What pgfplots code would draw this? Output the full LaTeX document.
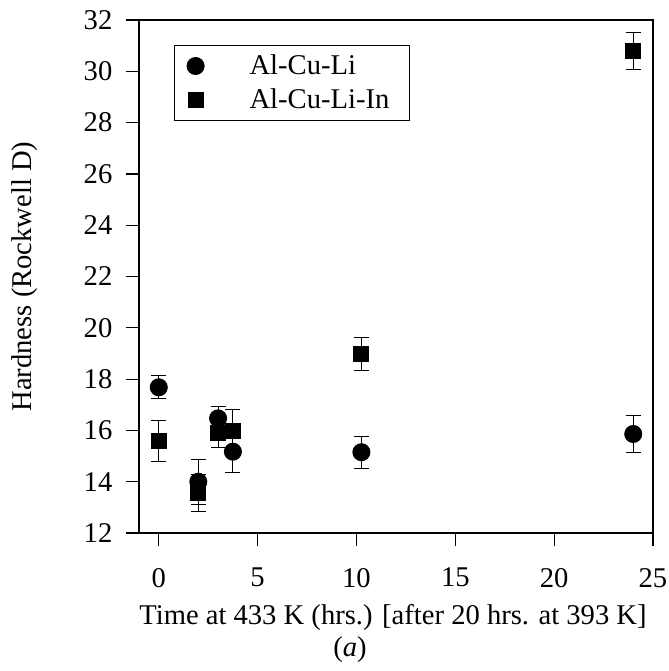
\documentclass[border=0pt]{standalone}
\usepackage{fontspec}
\setmainfont{Liberation Serif}
\usepackage{pgfplots}
\pgfplotsset{compat=1.18}
\pgfplotsset{myleg/.style={legend image code/.code={\path[draw=none,fill=none] (0pt,-5.5pt) rectangle (37.5pt,5.5pt);
    \draw[##1] plot coordinates {(10.5pt,0pt)};}}}
\begin{document}
\begin{tikzpicture}
\begin{axis}[
  scale only axis, width=257pt, height=256.5pt,
  xmin=-1, xmax=25, ymin=12, ymax=32,
  xtick={0,5,...,25}, ytick={12,14,...,32},
  tick align=outside, major tick length=6.5pt,
  xtick pos=bottom, ytick pos=left,
  axis line style={line width=0.6pt},
  tick style={line width=0.6pt, black},
  /pgf/number format/assume math mode=true,
  tick label style={font=\fontsize{14.3}{17}\selectfont},
  xticklabel style={yshift=-7.5pt},
  yticklabel style={xshift=-3.3pt},
  clip=false,
  legend style={at={(axis description cs:0.0681,0.9513)}, anchor=north west,
    draw=black, line width=0.6pt, font=\fontsize{14.3}{17}\selectfont,
    inner xsep=0pt, inner ysep=4.5pt, row sep=5.5pt, column sep=0pt,
    nodes={inner sep=0pt}},
  legend cell align=left,
]
\coordinate (sw) at (rel axis cs:0,0);
\addplot[only marks, mark=*, mark size=4.25pt, black, line width=0.5pt, myleg,
  error bars/.cd, y dir=both, y explicit,
  error bar style={line width=0.5pt, black},
  error mark options={rotate=90, mark size=3.75pt, line width=0.5pt, black}]
  coordinates {
  (0,17.68) +- (0,0.45)
  (2,14.0) +- (0,0.87)
  (3,16.47) +- (0,0.47)
  (3.75,15.17) +- (0,0.83)
  (10.25,15.15) +- (0,0.62)
  (24,15.86) +- (0,0.74)
};
\addlegendentry{\makebox[80pt][l]{Al-Cu-Li}}
\addplot[only marks, mark=square*, mark size=3.75pt, black, line width=0.5pt, myleg,
  error bars/.cd, y dir=both, y explicit,
  error bar style={line width=0.5pt, black},
  error mark options={rotate=90, mark size=3.75pt, line width=0.5pt, black}]
  coordinates {
  (0,15.57) +- (0,0.8)
  (2,13.55) +- (0,0.72)
  (3,15.89) +- (0,0.55)
  (3.75,15.98) +- (0,0.82)
  (10.25,18.98) +- (0,0.65)
  (24,30.8) +- (0,0.72)
};
\addlegendentry{\makebox[80pt][l]{Al-Cu-Li-In}}
\end{axis}
\node[anchor=base, font=\fontsize{14.3}{17}\selectfont, inner sep=0pt]
  at ([shift={(127pt,-45.5pt)}]sw) {Time at 433 K (hrs.) [after 20 hrs. at 393 K]};
\node[anchor=base, font=\fontsize{14.3}{17}\selectfont, inner sep=0pt]
  at ([shift={(105.5pt,-62pt)}]sw) {(\textit{a})};
\node[anchor=center, rotate=90, font=\fontsize{14.3}{17}\selectfont, inner sep=0pt]
  at ([shift={(-57pt,128.25pt)}]sw) {Hardness (Rockwell D)};
\pgfresetboundingbox
\path ([shift={(-69.5pt,-69pt)}]sw) rectangle ([shift={(265pt,266.5pt)}]sw);
\end{tikzpicture}
\end{document}
